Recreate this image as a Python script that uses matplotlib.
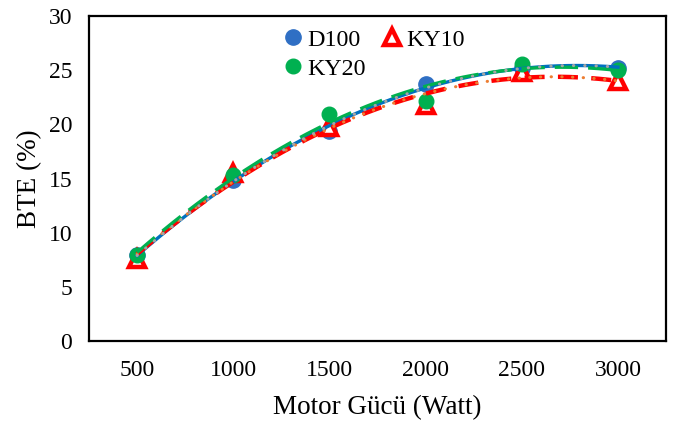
import numpy as np
import matplotlib
matplotlib.use("Agg")
import matplotlib.pyplot as plt
from matplotlib.lines import Line2D

power = [500, 1000, 1500, 2000, 2500, 3000]
d100 = [7.9, 14.9, 19.4, 23.7, 25.2, 25.2]
ky10 = [7.6, 15.5, 19.8, 21.8, 24.8, 24.0]
ky20 = [7.9, 15.3, 21.0, 22.2, 25.6, 25.0]
tick_labels = ["500", "1000", "1500", "2000", "2500", "3000"]

plt.rcParams['font.family'] = ['Liberation Serif', 'DejaVu Serif']

fig = plt.figure(figsize=(6.81, 4.22), dpi=100)
ax = fig.add_axes([0.1307, 0.192, 0.8473, 0.770])

c_blue = '#0070C0'
c_bluem = '#2F6FC4'
c_red = '#FF0000'
c_green = '#00B050'
c_orange = '#ED7D31'
c_gray = '#A5A5A5'

ax.plot(power, d100, 'o', color=c_bluem, ms=11, mec=c_bluem, zorder=3)
ax.plot(power, ky10, '^', color='white', ms=11, mec=c_red, mew=3.2, zorder=4)
ax.plot(power, ky20, 'o', color=c_green, ms=10.5, mec=c_green, zorder=5)

xs = np.linspace(power[0], power[-1], 200)
fd = np.polyval(np.polyfit(power, d100, 2), xs)
f10 = np.polyval(np.polyfit(power, ky10, 2), xs)
f20 = np.polyval(np.polyfit(power, ky20, 2), xs)

ax.plot(xs, fd, '-', color=c_blue, lw=2.4, zorder=6)
ax.plot(xs, f10, color=c_red, lw=3.2, dashes=(4.5, 3), zorder=7)
ax.plot(xs, f10, color=c_orange, lw=2.2, dashes=(0.1, 3.4), dash_capstyle='round', zorder=8)
ax.plot(xs, f20, color=c_green, lw=2.4, dashes=(7, 3), zorder=9)
ax.plot(xs, fd, color=c_gray, lw=2.2, dashes=(0.1, 3.6), dash_capstyle='round', zorder=10)

ax.set_xlim(250, 3250)
ax.set_ylim(0, 30)
ax.set_xticks(power)
ax.set_xticklabels(tick_labels)
ax.set_yticks(np.arange(0, 31, 5))
ax.tick_params(length=0, labelsize=17)
ax.tick_params(axis='x', pad=14)
ax.tick_params(axis='y', pad=12)
for s in ax.spines.values():
    s.set_linewidth(1.6)
    s.set_color('black')

ax.set_xlabel('Motor Gücü (Watt)', fontsize=19.5, labelpad=10)
ax.set_ylabel('BTE (%)', fontsize=19.5, labelpad=5)

handles = [
    Line2D([], [], ls='none', marker='o', color=c_bluem, ms=11),
    Line2D([], [], ls='none', marker='o', color=c_green, ms=10.5),
    Line2D([], [], ls='none', marker='^', color='white', mec=c_red, mew=3.2, ms=11),
]
labels = ['D100', 'KY20', 'KY10']
ax.legend(handles, labels, ncol=2, loc='upper left', bbox_to_anchor=(0.295, 1.02),
          frameon=False, fontsize=17.3, handletextpad=0.0, columnspacing=0.5,
          labelspacing=0.3, handlelength=1.2, borderpad=0.3)

fig.savefig('out.png', dpi=100)
